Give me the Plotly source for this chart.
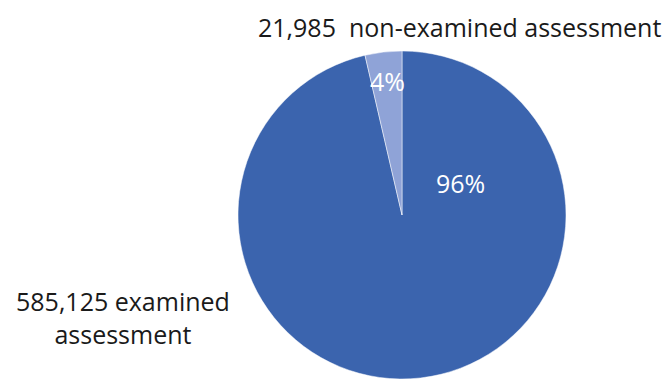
import plotly.graph_objects as go

categories = ["examined assessment", "non-examined assessment"]
counts = [585125, 21985]
colors = ["#3B64AE", "#8FA3D7"]

W, H = 664, 371
OFF = 8  # page body margin
total = sum(counts)
pcts = [round(c / total * 100) for c in counts]

cx, top, r = 402 - OFF, 51 - OFF, 165
fig = go.Figure(go.Pie(
    labels=categories,
    values=counts,
    sort=False,
    direction="clockwise",
    rotation=0,
    marker=dict(colors=colors, line=dict(color="white", width=0.5)),
    textinfo="none",
    hoverinfo="label+value+percent",
    showlegend=False,
    domain=dict(x=[(cx - r) / W, (cx + r) / W], y=[0, 1 - top / H]),
))

font = "'Open Sans', Lato, sans-serif"
def px(x, y):
    return dict(x=(x - OFF) / W, y=1 - (y - OFF) / H, xref="paper", yref="paper")

FS = 25
anns = [
    dict(**px(459, 27), text=f"{counts[1]:,}  {categories[1]}", font=dict(size=FS, color="#1a1a1a")),
    dict(**px(123, 317), text=f"{counts[0]:,} examined<br>assessment", font=dict(size=FS, color="#1a1a1a")),
    dict(**px(387, 81), text=f"{pcts[1]}%", font=dict(size=FS, color="white")),
    dict(**px(460, 183), text=f"{pcts[0]}%", font=dict(size=FS, color="white")),
]
for a in anns:
    a.update(showarrow=False, xanchor="center", yanchor="middle", font_family=font)
fig.update_layout(
    width=W, height=H, autosize=False,
    margin=dict(l=0, r=0, t=0, b=0),
    paper_bgcolor="white", plot_bgcolor="white",
    annotations=anns,
    font=dict(family=font),
)
fig.write_html("out.html")
